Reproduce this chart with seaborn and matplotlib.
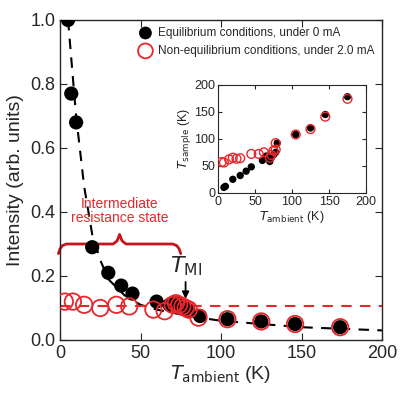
import matplotlib
matplotlib.use("Agg")
import matplotlib.pyplot as plt
import seaborn as sns
import numpy as np

sns.set_style("ticks")
plt.rcParams['font.family'] = ['Liberation Sans', 'DejaVu Sans']

eq_T = [5, 7, 10, 20, 30, 38, 45, 60, 68, 72, 75, 78, 80, 87, 104, 125, 146, 174]
eq_I = [1.0, 0.77, 0.68, 0.29, 0.21, 0.17, 0.145, 0.12, 0.11, 0.115, 0.105, 0.1, 0.09, 0.075, 0.065, 0.058, 0.05, 0.04]
ne_T = [3, 8, 15, 25, 35, 43, 58, 65, 70, 72, 74, 76, 78, 80, 86, 104, 125, 146, 174]
ne_I = [0.12, 0.12, 0.11, 0.1, 0.11, 0.105, 0.095, 0.09, 0.11, 0.115, 0.11, 0.105, 0.1, 0.095, 0.07, 0.065, 0.058, 0.05, 0.04]
fit_T = [5, 10, 15, 20, 25, 30, 40, 50, 60, 70, 80, 100, 120, 150, 200]
fit_I = [1.0, 0.7, 0.48, 0.33, 0.25, 0.19, 0.14, 0.11, 0.095, 0.085, 0.075, 0.06, 0.052, 0.04, 0.03]
ne_level = 0.105

in_eq_T = [8, 10, 20, 30, 38, 45, 60, 65, 70, 72, 75, 78, 80, 105, 125, 145, 175]
in_eq_S = [10, 12, 25, 32, 40, 48, 60, 68, 58, 65, 70, 75, 92, 108, 120, 145, 178]
in_ne_T = [5, 8, 15, 20, 25, 30, 45, 55, 62, 70, 72, 75, 78, 78, 105, 125, 145, 175]
in_ne_S = [57, 56, 62, 65, 63, 64, 72, 72, 75, 65, 70, 78, 80, 92, 108, 118, 141, 174]

red = '#e8262b'
fig = plt.figure(figsize=(4, 4), dpi=100)
ax = fig.add_axes([0.15, 0.15, 0.805, 0.8])
ax.plot(fit_T, fit_I, '--', color='black', lw=1.5, dashes=(5, 4), zorder=1)
ax.plot([0, 200], [ne_level, ne_level], '--', color=red, lw=1.5, dashes=(5, 4), zorder=1)
sns.scatterplot(x=eq_T, y=eq_I, ax=ax, color='black', s=105, edgecolor='none', zorder=3,
                label='Equilibrium conditions, under 0 mA')
sns.scatterplot(x=ne_T, y=ne_I, ax=ax, facecolor='none', edgecolor=red, linewidth=1.3, s=140, zorder=4,
                label='Non-equilibrium conditions, under 2.0 mA')
ax.set_xlim(0, 200); ax.set_ylim(0, 1.0)
ax.set_xticks([0, 50, 100, 150, 200]); ax.set_yticks(np.arange(0, 1.01, 0.2))
ax.set_yticklabels(['0.0', '0.2', '0.4', '0.6', '0.8', '1.0'])
ax.tick_params(direction='in', top=True, right=True, labelsize=13, length=5)
ax.set_xlabel(r'$T_{\rm ambient}$ (K)', fontsize=14, labelpad=1)
ax.set_ylabel('Intensity (arb. units)', fontsize=14)
ax.legend(loc='upper right', bbox_to_anchor=(1.0, 1.0), frameon=False, fontsize=8.5,
          handletextpad=0.1, borderaxespad=0.2, markerscale=0.9)
# brace
bx = [-1, 0, 1.5, 4, 33, 35.5, 37, 38.5, 41, 70, 72.5, 74, 75]
by = [0.27, 0.285, 0.295, 0.3, 0.3, 0.31, 0.33, 0.31, 0.3, 0.3, 0.295, 0.285, 0.27]
ax.plot(bx, by, color='#c8141a', lw=2, clip_on=False, solid_joinstyle='round')
ax.text(37, 0.36, 'Intermediate\nresistance state', color=red, fontsize=10, ha='center', va='bottom',
        linespacing=1.0)
ax.annotate('', xy=(78, 0.12), xytext=(78, 0.19),
            arrowprops=dict(arrowstyle='-|>', color='black', lw=1.3, mutation_scale=10))
ax.text(78, 0.195, r'$T_{\rm MI}$', fontsize=16, ha='center', va='bottom')
for s in ax.spines.values(): s.set_linewidth(1)

ins = fig.add_axes([0.545, 0.518, 0.37, 0.27])
ins.scatter(in_eq_T, in_eq_S, color='black', s=28, edgecolor='none', zorder=3)
ins.scatter(in_ne_T, in_ne_S, facecolor='none', edgecolor=red, s=40, lw=1, zorder=4)
ins.set_xlim(0, 200); ins.set_ylim(0, 200)
ins.set_xticks([0, 50, 100, 150, 200]); ins.set_yticks([0, 50, 100, 150, 200])
ins.tick_params(direction='in', top=True, right=True, labelsize=9, length=3, pad=2)
ins.set_xlabel(r'$T_{\rm ambient}$ (K)', fontsize=9, labelpad=1)
ins.set_ylabel(r'$T_{\rm sample}$ (K)', fontsize=9, labelpad=1)
fig.savefig('out.png', dpi=100)
